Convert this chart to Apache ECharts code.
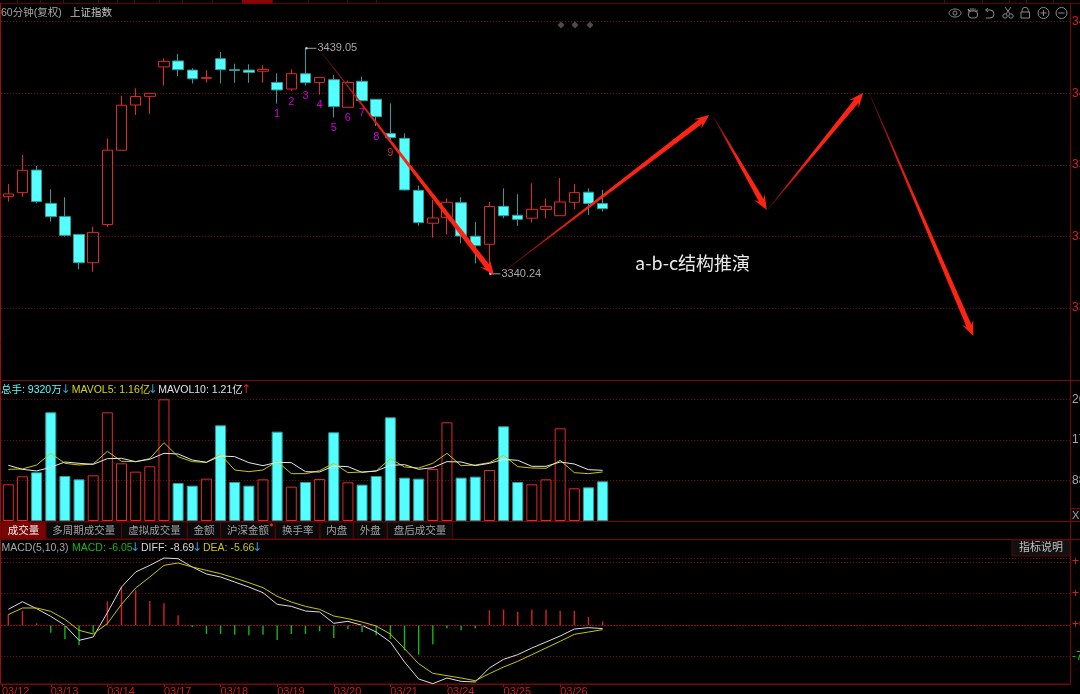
<!DOCTYPE html>
<html><head><meta charset="utf-8">
<style>html,body{margin:0;padding:0;background:#000;overflow:hidden}#c{width:1080px;height:694px}</style>
<script src="https://cdn.jsdelivr.net/npm/echarts@6/dist/echarts.min.js"></script>
</head><body><div id="c"></div>
<script>
const opens =[3374.05,3375.8,3385.7,3371.1,3365.3,3357.5,3345.1,3361.8,3394.4,3414.2,3418.0,3430.9,3433.5,3429.5,3425.9,3434.5,3429.7,3429.5,3429.0,3424.1,3421.2,3427.9,3424.1,3425.3,3413.2,3424.6,3416.7,3401.7,3399.6,3376.8,3362.4,3365.0,3371.4,3356.7,3353.2,3369.8,3365.9,3364.6,3368.4,3365.7,3371.6,3376.0,3371.0];
const closes=[3375.22,3385.6,3371.9,3365.3,3357.1,3345.1,3358.4,3394.4,3414.1,3417.9,3419.3,3433.3,3429.7,3425.7,3426.2,3429.7,3429.3,3428.5,3429.8,3420.8,3427.9,3424.0,3426.2,3413.5,3424.1,3416.1,3409.1,3399.9,3377.0,3362.7,3364.7,3371.6,3356.8,3352.6,3369.7,3365.7,3364.1,3368.5,3369.8,3371.7,3375.8,3371.1,3368.8];
const lows  =[3371.86,3374.05,3371.1,3363.1,3356.5,3342.2,3341.2,3360.8,3394.4,3409.8,3410.3,3422.7,3426.9,3423.6,3424.0,3423.6,3423.9,3423.9,3423.9,3414.8,3420.3,3422.7,3418.7,3408.7,3413.2,3415.8,3405.0,3398.6,3376.7,3361.3,3356.1,3357.5,3353.6,3344.8,3340.24,3364.6,3361.2,3362.7,3364.6,3365.7,3368.6,3366.0,3367.5];
const highs =[3379.6,3392.3,3387.5,3377.3,3373.8,3357.5,3360.9,3399.6,3418.3,3421.5,3419.3,3434.7,3436.6,3430.3,3429.5,3437.4,3432.3,3432.0,3431.6,3428.1,3429.8,3439.05,3426.2,3427.4,3424.9,3426.6,3416.7,3414.9,3401.8,3378.9,3372.6,3373.3,3373.8,3363.0,3371.7,3377.7,3375.1,3379.9,3373.3,3382.2,3379.6,3377.7,3377.0];
const volumes=[7956,9692,10560,23580,9765,9041,9909,23580,12513,10705,11862,26400,8246,7667,9186,20759,8463,7667,9041,19384,7450,8463,9114,19240,8390,7884,9765,22495,9403,9186,11283,21410,9403,9620,11066,20542,8463,7956,9041,20108,7088,7305,8607];
const mavol5=[11211,11283,12151,14683,12513,12151,12368,15117,12947,12875,13526,16998,13960,12875,12730,14466,11066,10705,11066,12947,10271,10271,10922,12513,10488,10633,10850,13526,11717,11500,12513,14683,12007,12151,12658,14249,11790,11500,11428,13164,10488,10271,10633];
const mavol10=[12079,11211,10850,11645,12802,12513,12296,13526,13598,12875,13381,14683,14538,13236,12730,14104,13960,12658,12007,12730,12658,10705,10633,11934,11790,10560,10850,12079,12224,11211,11573,12875,12802,12007,12513,13381,13164,11862,11862,12802,12368,11139,10994];
const diff=[38.3,57.0,39.9,21.2,-0.8,-37.5,-29.3,30.1,92.9,129.6,145.8,163.8,162.1,141.8,124.7,117.3,105.1,92.9,79.0,50.5,45.6,34.2,31.8,4.1,9.0,-0.8,-17.1,-41.6,-90.4,-132.0,-143.4,-129.6,-137.7,-139.3,-105.1,-83.9,-72.5,-56.2,-41.6,-26.9,-9.8,-6.5,-8.69];
const dea=[25.3,41.6,41.6,33.4,13.9,-13.0,-22.0,3.3,50.5,90.4,117.3,145.8,151.6,141.8,133.6,125.5,114.9,103.5,91.3,70.1,56.2,45.6,38.3,22.0,15.5,7.3,-2.4,-22.0,-57.9,-94.5,-118.1,-123.8,-129.6,-136.1,-119.0,-102.7,-88.8,-72.5,-56.2,-39.9,-22.8,-17.1,-11.4];
const macd=[25.3,35.0,4.1,-18.7,-34.2,-49.7,-18.7,57.9,92.9,84.7,58.7,53.0,23.6,-4.9,-22.0,-22.0,-23.6,-25.3,-23.6,-36.7,-22.0,-22.0,-15.5,-31.8,-10.6,-17.1,-25.3,-34.2,-61.9,-72.5,-47.3,-8.1,-13.0,-8.1,35.9,37.5,32.6,37.5,37.5,35.0,35.0,19.6,9.0];
const dateTicks=[-0.45,3,7,11,15,19,23,27,31,35,39];
const dateLabels=['03/12','03/13','03/14','03/17','03/18','03/19','03/20','03/21','03/24','03/25','03/26'];
const seqIdx=[19,20,21,22,23,24,25,26,27];
const seqPrice=[3410.3,3415.5,3418.1,3414.2,3404.1,3408.5,3410.8,3400.0,3393.2];
const seqText=['1','2','3','4','5','6','7','8','9'];
const extremeIdx=[21,34];
const extremePrice=[3439.05,3340.24];
const extremeText=['3439.05','3340.24'];
const arrowTail=[[21.89,3439.2],[34.96,3341.0],[49.8,3409.4],[53.69,3368.6],[60.85,3419.3]];
const arrowTip=[[34.33,3339.7],[49.54,3409.8],[53.6,3368.2],[60.42,3419.6],[68.2,3313.0]];
const tabNames=['成交量','多周期成交量','虚拟成交量','金额','沪深金额','换手率','内盘','外盘','盘后成交量'];
const tabEdges=[1,46,121.7,187.3,220.7,275.3,320,353.3,387.3,452.7];
const strip=[17,40,63,98,117,134,159,182,212,242,272,308,347,376,944,982,1009,1026,1053];

const RED='#e02a28', CY='#55ffff', TEAL='#2d9c9c', FR='#7a0707';
const FONT='"Liberation Sans","Noto Sans CJK SC",sans-serif';
const idx=opens.map((_,i)=>i);
const chart=echarts.init(document.getElementById('c'),null,{renderer:'canvas',width:1080,height:694});
const isUp=i=>closes[i]>=opens[i];

function renderArrow(p,api){
  const a=api.coord([api.value(0),api.value(1)]), b=api.coord([api.value(2),api.value(3)]);
  const dx=b[0]-a[0],dy=b[1]-a[1],L=Math.hypot(dx,dy),ux=dx/L,uy=dy/L,nx=-uy,ny=ux;
  const at=(d,w)=>[a[0]+ux*d+nx*w,a[1]+uy*d+ny*w];
  const neck=L-11,barb=L-15;
  const pts=[at(0,0.25),at(neck,2.7),at(barb,6.2),at(L,0),at(barb,-6.2),at(neck,-2.7),at(0,-0.25)];
  return {type:'polygon',shape:{points:pts},style:{fill:new echarts.graphic.LinearGradient(a[0],a[1],b[0],b[1],[{offset:0,color:'#4a0b06'},{offset:0.25,color:'#d81a10'},{offset:0.5,color:'#ff2412'},{offset:1,color:'#ff2412'}],true)}};
}
function renderSeq(p,api){
  const c=api.coord([api.value(0),api.value(1)]),i=p.dataIndex;
  return {type:'text',style:{text:seqText[i],x:c[0],y:c[1],align:'center',verticalAlign:'middle',fill:i===8?'#c0303a':'#d000d8',font:'11px '+FONT}};
}
function renderExtreme(p,api){
  const c=api.coord([api.value(0),api.value(1)]),i=p.dataIndex;
  return {type:'group',children:[
    {type:'line',shape:{x1:c[0],y1:c[1],x2:c[0]+11,y2:c[1]},style:{stroke:'#a0a0a0',lineWidth:1}},
    {type:'circle',shape:{cx:c[0]+1,cy:c[1],r:1.2},style:{fill:'#c0c0c0'}},
    {type:'text',style:{text:extremeText[i],x:c[0]+12,y:c[1],verticalAlign:'middle',fill:'#a8a8a8',font:'11px '+FONT}}
  ]};
}
const g=[];
const ln=(x1,y1,x2,y2,c,w)=>g.push({type:'line',silent:true,z:1,shape:{x1,y1,x2,y2},style:{stroke:c||FR,lineWidth:w||1}});
const tx=(t,x,y,c,s,a)=>g.push({type:'text',silent:true,z:20,style:{text:t,x,y,fill:c,font:(s||10.5)+'px '+FONT,verticalAlign:'middle',align:a||'left'}});
const ar=(t,x,y,c)=>g.push({type:'text',silent:true,z:20,style:{text:t,x,y,fill:c,font:'12px "DejaVu Sans"',verticalAlign:'middle',align:'left'}});
// frame
ln(0,3.5,1080,3.5,'#5c0505');ln(0.5,3,0.5,684,'#a00c0c');ln(1070.5,3,1070.5,684,FR);
ln(0,380.5,1080,380.5,FR);ln(0,521.5,1070,521.5,FR);ln(0,539.5,1080,539.5,FR);ln(0,684,1070,684,FR);
strip.forEach(x=>ln(x+.5,0,x+.5,3,'#5c0505'));
g.push({type:'rect',silent:true,z:1,shape:{x:242,y:0,width:30,height:3.5},style:{fill:'#8a0606'}});
// header
tx('60分钟(复权)',1,13,'#a8a8a8');tx('上证指数',70,13,'#c4c4c4');
[561,575,590].forEach(x=>g.push({type:'polygon',silent:true,z:2,shape:{points:[[x,21.5],[x+3.5,25],[x,28.5],[x-3.5,25]]},style:{fill:'#4c4c4c'}}));
g.push({type:'text',silent:true,z:20,style:{text:'a-b-c结构推演',x:635,y:263,fill:'#ececec',font:'18px "Noto Sans CJK SC"',verticalAlign:'middle'}});
// vol legend
tx('总手: 9320万',1,390,CY);ar('↓',60.5,390,'#2f9fe0');tx('MAVOL5: 1.16亿',71.7,390,'#d8d800');ar('↓',147.5,390,'#2f9fe0');tx('MAVOL10: 1.21亿',158.3,390,'#e0e0e0');ar('↑',241,390,'#e02020');
// tabs
tabNames.forEach((t,i)=>{const x0=tabEdges[i],x1=tabEdges[i+1],on=i===0;
  g.push({type:'rect',silent:true,z:3,shape:{x:x0,y:522,width:x1-x0,height:17},style:{fill:on?'#7a0505':'#0a0a0a',stroke:'#5c0505',lineWidth:1}});
  tx(t,(x0+x1)/2,531,on?'#f0f0f0':'#a0a0a0',10.5,'center');});
g.push({type:'circle',silent:true,z:21,shape:{cx:271.5,cy:525,r:1.4},style:{fill:'#ff2020'}});
// macd legend
tx('MACD(5,10,3)',1.5,548,'#a8a8a8');tx('MACD: -6.05',72,548,'#10b810');ar('↓',130,548,'#2f9fe0');tx('DIFF: -8.69',141,548,'#d8d8d8');ar('↓',192,548,'#2f9fe0');tx('DEA: -5.66',203,548,'#c8c800');ar('↓',252,548,'#2f9fe0');
// button
g.push({type:'rect',silent:true,z:3,shape:{x:1012,y:540,width:58,height:16},style:{fill:'#111',stroke:'#5c0505',lineWidth:1}});
tx('指标说明',1041,548,'#c0c0c0',11,'center');
g.push({type:'rect',silent:true,z:3,shape:{x:1070.5,y:508.5,width:12,height:13},style:{fill:'#0a0a0a',stroke:FR,lineWidth:1}});
tx('X1',1072,515.5,'#a0a0a0',11);
// icons
const IC='#8a8a8a',ico=(type,shape)=>g.push({type,silent:true,z:20,shape,style:{stroke:IC,fill:'none',lineWidth:1}});
ico('ellipse',{cx:955,cy:13,rx:6,ry:4});ico('circle',{cx:955,cy:13,r:2});
ico('rect',{x:968.5,y:11,width:9,height:7,r:3});ico('polyline',{points:[[969,12],[968,9],[970,11]]});ico('line',{x1:971,y1:8,x2:971,y2:11});ico('line',{x1:973,y1:8,x2:973,y2:11});ico('line',{x1:975,y1:8.5,x2:975,y2:11});ico('line',{x1:977,y1:10,x2:977,y2:12});
ico('polyline',{points:[[988,8],[985.5,10],[988,12]]});ico('arc',{cx:990,cy:14,r:4,startAngle:-Math.PI/2,endAngle:Math.PI/2});ico('polyline',{points:[[986,10],[990,10]]});ico('line',{x1:990,y1:18,x2:986,y2:18});
ico('circle',{cx:1005,cy:16,r:2.2});ico('circle',{cx:1011,cy:16,r:2.2});ico('line',{x1:1006,y1:14,x2:1011,y2:7});ico('line',{x1:1010,y1:14,x2:1005,y2:7});
ico('rect',{x:1021,y:12,width:8.5,height:6});ico('arc',{cx:1025.2,cy:10.5,r:3.2,startAngle:Math.PI,endAngle:0});ico('line',{x1:1022,y1:10.5,x2:1022,y2:12});ico('line',{x1:1028.4,y1:10.5,x2:1028.4,y2:12});
ico('circle',{cx:1043.5,cy:13,r:5.5});ico('line',{x1:1040.5,y1:13,x2:1046.5,y2:13});ico('line',{x1:1043.5,y1:10,x2:1043.5,y2:16});
ico('circle',{cx:1061.5,cy:13,r:5.5});ico('line',{x1:1058.5,y1:13,x2:1064.5,y2:13});

const GRIDX={left:1.225,width:1068.775,outerBoundsMode:'none',containLabel:false};
const XMIN=-0.5,XMAX=75.03;
const split={show:true,showMinLine:false,lineStyle:{color:'#801414',type:[1,2],width:1}};
const hiddenX=gi=>({type:'value',gridIndex:gi,min:XMIN,max:XMAX,show:false,splitLine:{show:false}});
chart.setOption({
  backgroundColor:'#000',animation:false,
  textStyle:{fontFamily:FONT},
  graphic:{elements:g},
  grid:[
    {...GRIDX,top:21.7,height:358},
    {...GRIDX,top:399.3,height:121.7},
    {...GRIDX,top:558,height:130}
  ],
  xAxis:[hiddenX(0),hiddenX(1),
    {type:'value',gridIndex:2,min:XMIN,max:XMAX,position:'bottom',offset:-4,splitLine:{show:false},
     axisLine:{show:true,onZero:false,lineStyle:{color:FR}},
     axisTick:{show:true,length:3,inside:false,customValues:dateTicks,lineStyle:{color:'#9a1010'}},
     axisLabel:{show:true,customValues:dateTicks,margin:2,align:'left',fontSize:11,color:'#c81e1e',showMinLabel:true,showMaxLabel:true,
       formatter:v=>dateLabels[dateTicks.indexOf(v)]||''}}
  ],
  yAxis:[
    {type:'value',gridIndex:0,position:'right',min:3293.85,max:3450.7,interval:31.37,scale:true,splitLine:split,axisLine:{show:false},axisTick:{show:false},
     axisLabel:{margin:2,fontSize:12,color:'#d02020',showMinLabel:false,formatter:v=>Math.round(v)+''}},
    {type:'value',gridIndex:1,position:'right',min:0,max:26400,interval:8800,splitLine:split,axisLine:{show:false},axisTick:{show:false},
     axisLabel:{margin:2,fontSize:12,color:'#a0a8b4',showMinLabel:false,formatter:v=>v+''}},
    {type:'value',gridIndex:2,position:'right',min:-154,max:163.8,interval:77,splitLine:split,axisLine:{show:false},axisTick:{show:false},
     axisLabel:{margin:2,fontSize:12,showMinLabel:false,showMaxLabel:false,
       color:v=>v<0?'#10c810':'#d02020',
       formatter:v=>(v>=0?'+':'')+v}}
  ],
  series:[
    {type:'candlestick',xAxisIndex:0,yAxisIndex:0,barWidth:11,z:2,clip:false,
     data:idx.map(i=>[i,opens[i],closes[i],lows[i],highs[i]]),
     itemStyle:{color:'rgba(0,0,0,0)',color0:CY,borderColor:RED,borderColor0:TEAL,borderWidth:1}},
    {type:'custom',xAxisIndex:0,yAxisIndex:0,z:3,renderItem:renderSeq,encode:{x:0,y:1},data:seqIdx.map((x,i)=>[x,seqPrice[i]])},
    {type:'custom',xAxisIndex:0,yAxisIndex:0,z:3,renderItem:renderExtreme,encode:{x:0,y:1},data:extremeIdx.map((x,i)=>[x,extremePrice[i]])},
    {type:'custom',xAxisIndex:0,yAxisIndex:0,z:6,renderItem:renderArrow,encode:{x:[0,2],y:[1,3]},data:arrowTail.map((t,i)=>[t[0],t[1],arrowTip[i][0],arrowTip[i][1]])},
    {type:'bar',xAxisIndex:1,yAxisIndex:1,barWidth:11,z:2,
     data:idx.map(i=>({value:[i,volumes[i]],itemStyle:isUp(i)?{color:'rgba(0,0,0,0)',borderColor:RED,borderWidth:1}:{color:CY,borderColor:TEAL,borderWidth:1}}))},
    {type:'line',xAxisIndex:1,yAxisIndex:1,z:4,symbol:'none',clip:false,lineStyle:{color:'#c8c800',width:1},data:idx.map(i=>[i,mavol5[i]])},
    {type:'line',xAxisIndex:1,yAxisIndex:1,z:5,symbol:'none',clip:false,lineStyle:{color:'#e8e8e8',width:1},data:idx.map(i=>[i,mavol10[i]])},
    {type:'bar',xAxisIndex:2,yAxisIndex:2,barWidth:1.4,z:2,
     data:idx.map(i=>({value:[i,macd[i]],itemStyle:{color:macd[i]>=0?'#d82020':'#10b810'}})),
     markLine:{silent:true,symbol:'none',label:{show:false},lineStyle:{color:'#8a1414',type:[2,1],width:1},data:[{yAxis:0}],animation:false}},
    {type:'line',xAxisIndex:2,yAxisIndex:2,z:4,symbol:'none',clip:false,lineStyle:{color:'#dcdcdc',width:1},data:idx.map(i=>[i,diff[i]])},
    {type:'line',xAxisIndex:2,yAxisIndex:2,z:5,symbol:'none',clip:false,lineStyle:{color:'#c8c800',width:1},data:idx.map(i=>[i,dea[i]])}
  ]
});
</script></body></html>
